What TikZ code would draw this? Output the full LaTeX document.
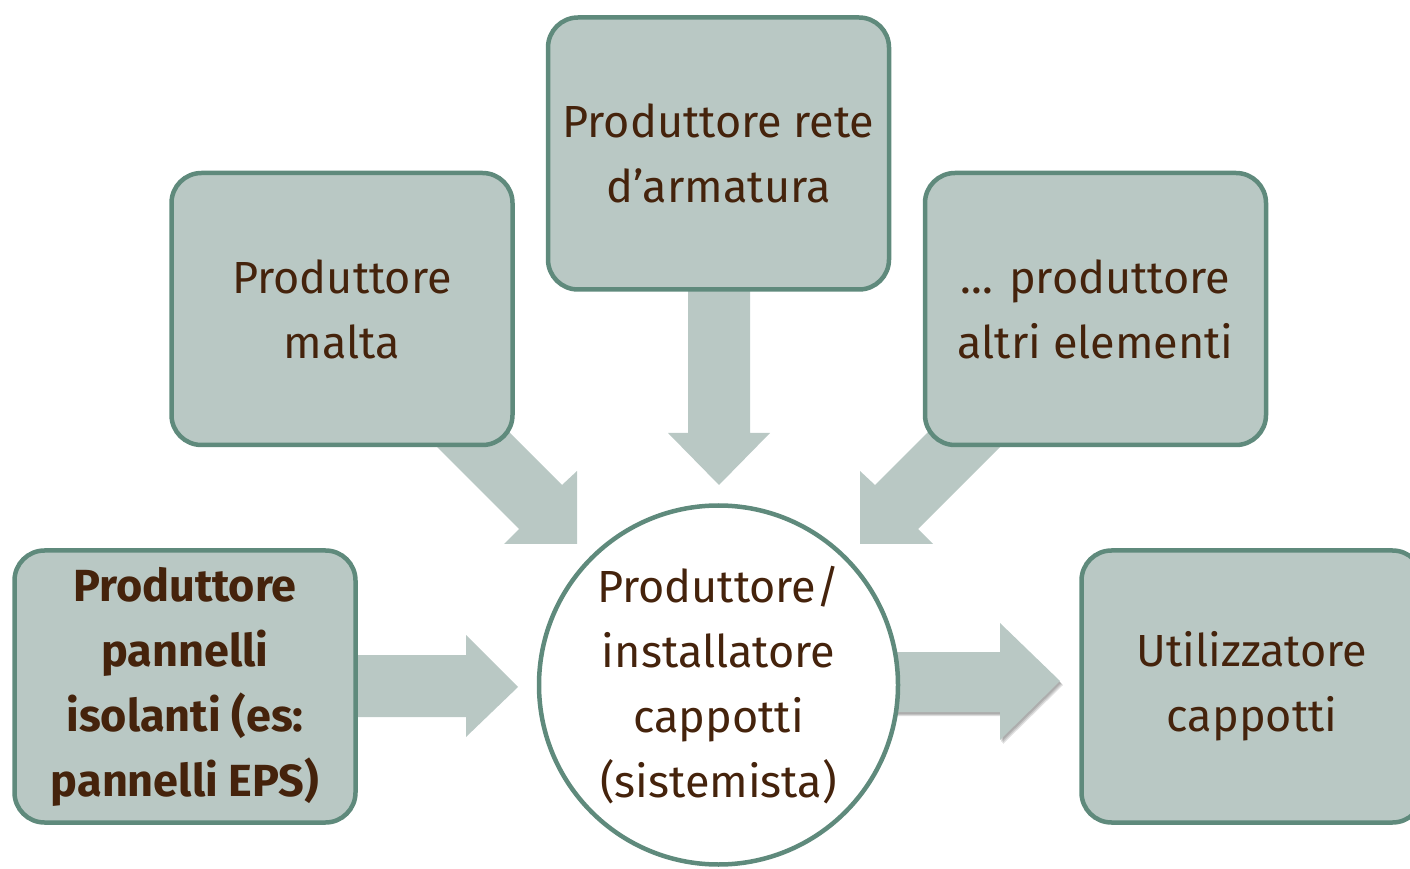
\documentclass[tikz,border=0pt]{standalone}
\usepackage{fontspec}
\setmainfont{Fira Sans}
\usetikzlibrary{backgrounds}
\definecolor{boxfill}{HTML}{B9C8C4}
\definecolor{boxline}{HTML}{5F8A7C}
\definecolor{txt}{HTML}{45230C}
\begin{document}
\begin{tikzpicture}[x=1pt,y=1pt,
  box/.style={draw=boxline, line width=4.5pt, fill=boxfill, rounded corners=30pt,
    minimum width=341pt, minimum height=272pt, align=center, text=txt,
    font=\fontsize{45}{65}\selectfont, inner sep=0pt},
  hub/.style={circle, draw=boxline, line width=4.5pt, fill=white, minimum size=359pt,
    align=center, text=txt, font=\fontsize{45}{65}\selectfont, inner sep=0pt},
  arr/.style={fill=boxfill},
  arrshadow/.style={fill=black, opacity=0.12}]
\useasboundingbox (0,0) rectangle (1410,868);
\clip (0,0) rectangle (1410,868);

\node[box] (rete) at (718.5,714.5) {Produttore rete\\d’armatura};
\node[box] (malta) at (342,559) {Produttore\\malta};
\node[box] (altri) at (1095.5,559) {... produttore\\altri elementi};
\node[box, font=\bfseries\fontsize{45}{65}\selectfont] (eps) at (185,181.5)
  {Produttore\\pannelli\\isolanti (es:\\pannelli EPS)};
\node[box] (util) at (1252,181.5) {Utilizzatore\\cappotti};
\node[hub] (hub) at (718.5,183) {Produttore/\\installatore\\cappotti\\(sistemista)};

\begin{scope}[on background layer]
  % down arrow from rete
  \fill[arr] (688,600) -- (688,435) -- (668,435) -- (719,383) -- (770,435) -- (750,435) -- (750,600) -- cycle;
  % diagonal arrow from malta
  \fill[arr] (480,465) -- (562,383) -- (577,397) -- (577,324) -- (504,324) -- (519,339) -- (437,421) -- cycle;
  % diagonal arrow from altri
  \fill[arr] (957,465) -- (875,383) -- (860,397) -- (860,324) -- (933,324) -- (918,339) -- (1000,421) -- cycle;
  % horizontal arrow from eps
  \fill[arr] (340,151) -- (466,151) -- (466,131) -- (518,181) -- (466,233) -- (466,213) -- (340,213) -- cycle;
  % horizontal arrow to util (with soft shadow)
  \foreach \dx/\dy in {1/-2,2/-3,3/-4}{
    \fill[arrshadow, shift={(\dx,\dy)}] (880,156) -- (1000,156) -- (1000,128) -- (1060,187) -- (1000,245) -- (1000,216) -- (880,216) -- cycle;
  }
  \fill[arr] (880,156) -- (1000,156) -- (1000,128) -- (1060,187) -- (1000,245) -- (1000,216) -- (880,216) -- cycle;
\end{scope}
\end{tikzpicture}
\end{document}
